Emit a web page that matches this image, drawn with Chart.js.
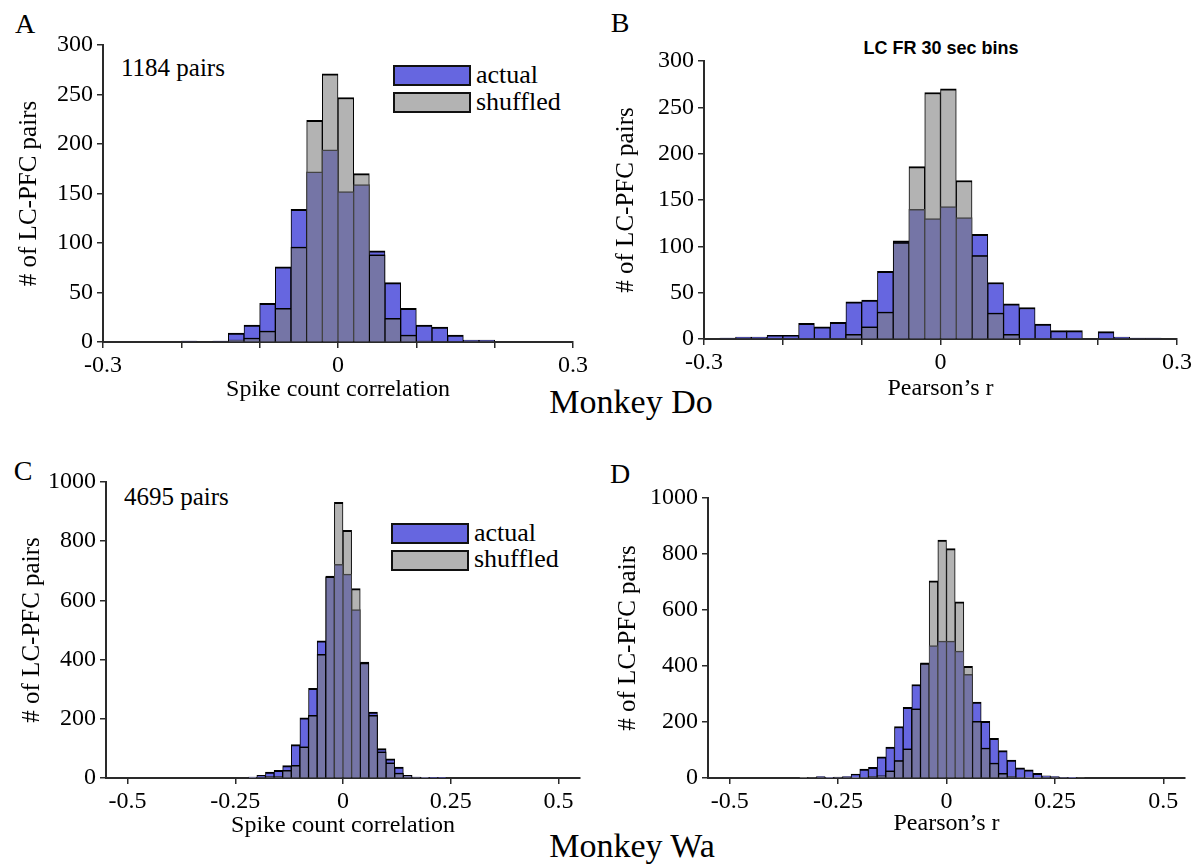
<!DOCTYPE html>
<html>
<head>
<meta charset="utf-8">
<script src="https://cdn.jsdelivr.net/npm/chart.js@4.4.1/dist/chart.umd.min.js"></script>
<style>
  html, body { margin: 0; padding: 0; background: #fff; }
  body { width: 1196px; height: 867px; position: relative; overflow: hidden; font-family: 'Liberation Serif', serif; color: #000; }
  .pane { position: absolute; }
  .txt { position: absolute; white-space: nowrap; line-height: 1; transform: translateY(-50%); }
  .mid { transform: translate(-50%, -50%); }
  .box { position: absolute; box-sizing: border-box; width: 78px; height: 21px; border: 2px solid #111; }
</style>
</head>
<body>

<div class="txt mid" style="left:25px; top:24px; font-size:28px;">A</div>
<div class="txt mid" style="left:620px; top:23px; font-size:28px;">B</div>
<div class="txt mid" style="left:23px; top:471px; font-size:28px;">C</div>
<div class="txt mid" style="left:620px; top:474px; font-size:28px;">D</div>

<div class="txt" style="left:121px; top:67px; font-size:25px;">1184 pairs</div>
<div class="txt" style="left:124px; top:496px; font-size:25px;">4695 pairs</div>

<div class="box" style="left:393px; top:65px; background:#6666e0;"></div>
<div class="txt" style="left:476px; top:75px; font-size:26px;">actual</div>
<div class="box" style="left:393px; top:92px; background:#b3b3b3;"></div>
<div class="txt" style="left:476px; top:102px; font-size:26px;">shuffled</div>

<div class="box" style="left:391px; top:523px; background:#6666e0;"></div>
<div class="txt" style="left:474px; top:533px; font-size:26px;">actual</div>
<div class="box" style="left:391px; top:550px; background:#b3b3b3;"></div>
<div class="txt" style="left:474px; top:559px; font-size:26px;">shuffled</div>

<div class="txt mid" style="left:941px; top:48px; font-size:18px; font-weight:bold; font-family:'Liberation Sans', Arial, sans-serif;">LC FR 30 sec bins</div>

<div class="txt mid" style="left:631px; top:402px; font-size:34px;">Monkey Do</div>
<div class="txt mid" style="left:632px; top:846px; font-size:34px;">Monkey Wa</div>

<div class="pane" style="left:12px; top:25px; width:583px; height:387px;"><canvas id="chartA"></canvas></div>
<div class="pane" style="left:609px; top:41px; width:587px; height:368px;"><canvas id="chartB"></canvas></div>
<div class="pane" style="left:15px; top:462px; width:585px; height:386px;"><canvas id="chartC"></canvas></div>
<div class="pane" style="left:611px; top:478px; width:584px; height:370px;"><canvas id="chartD"></canvas></div>

<script>
// Monkey Do, spike count correlation (bin centers, 0.02 wide)
const binsA = [-0.19, -0.17, -0.15, -0.13, -0.11, -0.09, -0.07, -0.05, -0.03, -0.01,
               0.01, 0.03, 0.05, 0.07, 0.09, 0.11, 0.13, 0.15, 0.17, 0.19];
const actualA = [1, 0, 1, 9, 17, 39, 76, 134, 172, 194, 152, 159, 92, 60, 34, 17, 15, 7, 2, 2];
const shuffledA = [0, 0, 0, 2, 4, 11, 34, 96, 224, 271, 247, 170, 88, 24, 7, 1, 0, 0, 1, 1];

// Monkey Do, Pearson's r of LC FR in 30 sec bins
const binsB = [-0.27, -0.25, -0.23, -0.21, -0.19, -0.17, -0.15, -0.13, -0.11, -0.09, -0.07, -0.05, -0.03, -0.01,
               0.01, 0.03, 0.05, 0.07, 0.09, 0.11, 0.13, 0.15, 0.17, 0.19, 0.21, 0.23, 0.25, 0.27];
const actualB = [1, 2, 2, 4, 4, 17, 13, 18, 40, 42, 73, 106, 140, 130, 143, 131, 113, 61, 38, 34, 16, 9, 9, 0, 8, 2, 1, 1];
const shuffledB = [0, 0, 0, 0, 0, 0, 0, 0, 5, 13, 29, 104, 186, 266, 270, 171, 90, 28, 5, 0, 0, 0, 0, 0, 0, 0, 0, 0];

// Monkey Wa, spike count correlation
const binsC = [-0.21, -0.19, -0.17, -0.15, -0.13, -0.11, -0.09, -0.07, -0.05, -0.03, -0.01,
               0.01, 0.03, 0.05, 0.07, 0.09, 0.11, 0.13, 0.15, 0.17, 0.19, 0.21, 0.23];
const actualC = [3, 9, 20, 26, 42, 113, 203, 303, 463, 682, 722, 689, 569, 392, 223, 99, 65, 37, 9, 3, 2, 1, 1];
const shuffledC = [1, 3, 6, 6, 26, 43, 105, 212, 418, 680, 931, 837, 640, 388, 212, 88, 51, 17, 9, 2, 1, 0, 0];

// Monkey Wa, Pearson's r
const binsD = [-0.33, -0.31, -0.29, -0.27, -0.25, -0.23, -0.21, -0.19, -0.17, -0.15, -0.13, -0.11, -0.09, -0.07, -0.05, -0.03, -0.01,
               0.01, 0.03, 0.05, 0.07, 0.09, 0.11, 0.13, 0.15, 0.17, 0.19, 0.21, 0.23, 0.25, 0.27, 0.29, 0.31];
const actualD = [0, 0, 5, 2, 3, 5, 14, 32, 38, 76, 110, 184, 252, 334, 411, 473, 489,
                 489, 453, 370, 271, 202, 142, 98, 64, 36, 29, 17, 8, 5, 2, 1, 0];
const shuffledD = [1, 2, 2, 1, 2, 2, 1, 2, 5, 8, 26, 62, 104, 247, 409, 704, 850,
                   819, 629, 399, 202, 107, 53, 17, 5, 2, 1, 1, 2, 2, 2, 2, 2];

// axis ticks
const xTicksDo = [-0.3, -0.2, -0.1, 0, 0.1, 0.2, 0.3];
const xLabelsDo = ['-0.3', '', '', '0', '', '', '0.3'];
const yTicksDo = [0, 50, 100, 150, 200, 250, 300];
const xTicksWa = [-0.5, -0.25, 0, 0.25, 0.5];
const xLabelsWa = ['-0.5', '-0.25', '0', '0.25', '0.5'];
const yTicksWa = [0, 200, 400, 600, 800, 1000];

const ACTUAL_COLOR = '#6666e0';
const SHUFFLED_COLOR = '#b3b3b3';
const BOTH_COLOR = '#7575a6';
const AXIS_COLOR = '#2a2a2a';
const SERIF = "'Liberation Serif', 'Times New Roman', serif";

Chart.defaults.font.family = SERIF;
Chart.defaults.color = '#000';

function histChart(id, bins, actual, shuffled, opt) {
  const overlap = actual.map((v, i) => Math.min(v, shuffled[i]));
  const pts = arr => bins.map((x, i) => ({ x: x, y: arr[i] }));
  const barStyle = {
    grouped: false,
    barPercentage: 1,
    categoryPercentage: 1,
    borderSkipped: 'start',
  };

  new Chart(document.getElementById(id), {
    type: 'bar',
    data: {
      datasets: [
        Object.assign({
          label: 'both',
          data: pts(overlap),
          backgroundColor: BOTH_COLOR,
          borderColor: ctx => actual[ctx.dataIndex] >= shuffled[ctx.dataIndex] ? '#000' : '#444',
          borderWidth: { top: 1.5, left: 1, right: 1, bottom: 0 },
        }, barStyle),
        Object.assign({
          label: 'shuffled',
          data: pts(shuffled),
          backgroundColor: SHUFFLED_COLOR,
          borderColor: '#000',
          borderWidth: { top: 2, left: 1, right: 1, bottom: 0 },
        }, barStyle),
        Object.assign({
          label: 'actual',
          data: pts(actual),
          backgroundColor: ACTUAL_COLOR,
          borderColor: '#000',
          borderWidth: { top: 2, left: 1, right: 1, bottom: 0 },
        }, barStyle),
      ],
    },
    options: {
      responsive: true,
      maintainAspectRatio: false,
      animation: false,
      layout: { padding: { left: 0, top: 20, right: opt.padRight, bottom: 0 } },
      plugins: {
        legend: { display: false },
        tooltip: { enabled: false },
      },
      scales: {
        x: {
          type: 'linear',
          min: opt.xMin,
          max: opt.xMax,
          offset: false,
          afterBuildTicks: s => { s.ticks = opt.xTicks.map(v => ({ value: v })); },
          afterFit: s => { s.height = 70; },
          grid: { offset: false, drawOnChartArea: false, drawTicks: true, tickLength: 6, color: AXIS_COLOR, lineWidth: 1.5 },
          border: { display: true, color: AXIS_COLOR, width: 2 },
          ticks: {
            autoSkip: false,
            maxRotation: 0,
            padding: 3,
            color: '#000',
            font: { family: SERIF, size: 24 },
            callback: (v, i) => opt.xLabels[i],
          },
          title: {
            display: true,
            text: opt.xTitle,
            color: '#000',
            font: { family: SERIF, size: 24 },
            padding: { top: 0, bottom: opt.xTitlePad },
          },
        },
        y: {
          min: 0,
          max: opt.yMax,
          afterBuildTicks: s => { s.ticks = opt.yTicks.map(v => ({ value: v })); },
          afterFit: s => { s.width = opt.yWidth; },
          grid: { drawOnChartArea: false, drawTicks: true, tickLength: 6, color: AXIS_COLOR, lineWidth: 1.5 },
          border: { display: true, color: AXIS_COLOR, width: 2 },
          ticks: {
            padding: 4,
            color: '#000',
            font: { family: SERIF, size: 24 },
            callback: v => String(v),
          },
          title: {
            display: true,
            text: '# of LC-PFC pairs',
            color: '#000',
            font: { family: SERIF, size: 25 },
            padding: { top: 2, bottom: 0 },
          },
        },
      },
    },
  });
}

histChart('chartA', binsA, actualA, shuffledA, {
  xMin: -0.3, xMax: 0.3, yMax: 300,
  xTicks: xTicksDo, xLabels: xLabelsDo, yTicks: yTicksDo,
  xTitle: 'Spike count correlation', xTitlePad: 8, yWidth: 91, padRight: 22,
});
histChart('chartB', binsB, actualB, shuffledB, {
  xMin: -0.3, xMax: 0.3, yMax: 300,
  xTicks: xTicksDo, xLabels: xLabelsDo, yTicks: yTicksDo,
  xTitle: 'Pearson’s r', xTitlePad: 6, yWidth: 95, padRight: 19,
});
histChart('chartC', binsC, actualC, shuffledC, {
  xMin: -0.55, xMax: 0.55, yMax: 1000,
  xTicks: xTicksWa, xLabels: xLabelsWa, yTicks: yTicksWa,
  xTitle: 'Spike count correlation', xTitlePad: 8, yWidth: 91, padRight: 20,
});
histChart('chartD', binsD, actualD, shuffledD, {
  xMin: -0.55, xMax: 0.55, yMax: 1000,
  xTicks: xTicksWa, xLabels: xLabelsWa, yTicks: yTicksWa,
  xTitle: 'Pearson’s r', xTitlePad: 10, yWidth: 97, padRight: 10,
});
</script>
</body>
</html>
